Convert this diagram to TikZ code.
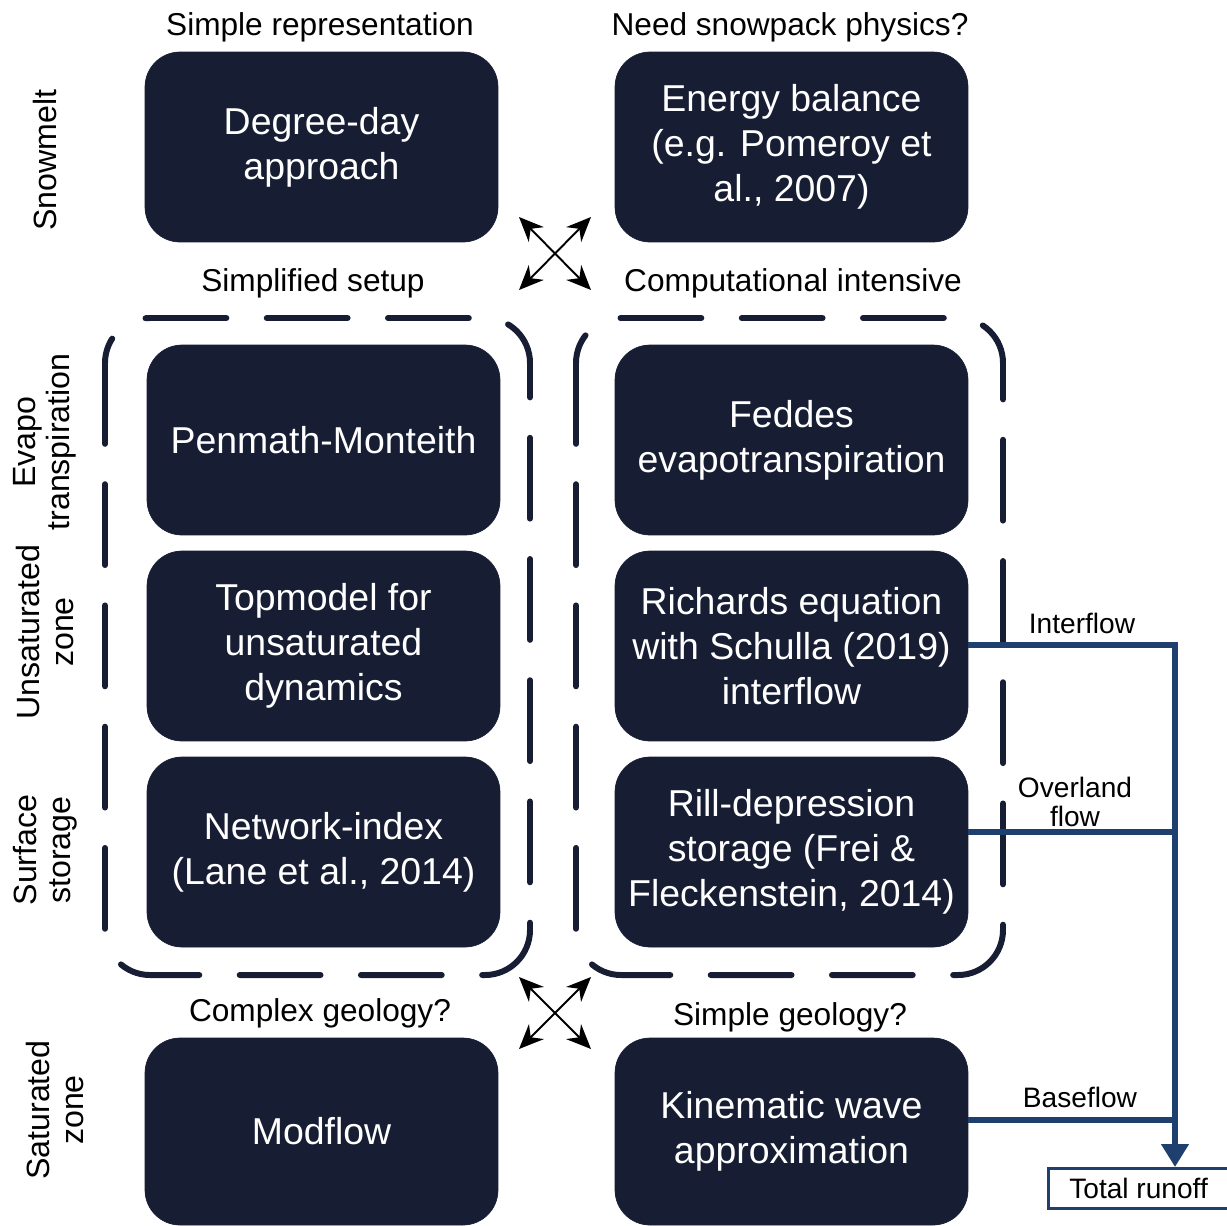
\documentclass[tikz,border=0pt]{standalone}
\usepackage{fontspec}
\setmainfont{Liberation Sans}
\usepackage{xcolor}
\usetikzlibrary{arrows.meta, positioning, calc}

\definecolor{navy}{HTML}{171D33}
\definecolor{flowblue}{HTML}{1F3F6E}

\begin{document}
\begin{tikzpicture}[
    x=0.02cm, y=-0.02cm,
    every node/.style={align=center},
    proc/.style={rectangle, rounded corners=0.7cm, fill=navy, draw=navy, text=white,
        minimum width=7.06cm, minimum height=3.8cm, inner sep=2pt,
        font=\fontsize{21.3}{25.5}\selectfont},
    head/.style={font=\fontsize{18}{20}\selectfont},
    side/.style={rotate=90, font=\fontsize{18.3}{19.5}\selectfont},
    flowlabel/.style={font=\fontsize{16}{16}\selectfont},
    group/.style={draw=navy, line width=3.4pt, line cap=round, rounded corners=0.9cm,
        dash pattern=on 46pt off 23pt},
    swap/.style={{Stealth[length=14pt,width=12pt]}-{Stealth[length=14pt,width=12pt]}, line width=1.1pt},
    flow/.style={draw=flowblue, line width=3.4pt},
]
\useasboundingbox (0,0) rectangle (1227,1225);

% Gruppenrahmen
\draw[group] (105,318) rectangle (530,975);
\draw[group] (576,318) rectangle (1003,975);

% Prozessboxen
\node[proc] (snowL) at (321.5,147) {Degree-day\\approach};
\node[proc] (snowR) at (791.5,147) {Energy balance\\(e.g. Pomeroy et\\al., 2007)};
\node[proc] (etL) at (323.5,440) {Penmath-Monteith};
\node[proc] (etR) at (791.5,440) {Feddes\\evapotranspiration};
\node[proc] (unsL) at (323.5,646) {Topmodel for\\unsaturated\\dynamics};
\node[proc] (unsR) at (791.5,646) {Richards equation\\with Schulla (2019)\\interflow};
\node[proc] (surfL) at (323.5,852) {Network-index\\(Lane et al., 2014)};
\node[proc] (surfR) at (791.5,852) {Rill-depression\\storage (Frei \&\\Fleckenstein, 2014)};
\node[proc, minimum height=3.74cm] (satL) at (321.5,1131.5) {Modflow};
\node[proc, minimum height=3.74cm] (satR) at (791.5,1131.5) {Kinematic wave\\approximation};

% Ueberschriften
\node[head] (hSnowL) at (320,27) {Simple representation};
\node[head] (hSnowR) at (790,27) {Need snowpack physics?};
\node[head] (hGrpL) at (313,283) {Simplified setup};
\node[head] (hGrpR) at (793,283) {Computational intensive};
\node[head] (hSatL) at (320,1013) {Complex geology?};
\node[head] (hSatR) at (790,1017) {Simple geology?};

% Zeilenbeschriftung
\node[side] (lSnow) at (45,160) {Snowmelt};
\node[side] (lET) at (45,442) {Evapo\\transpiration};
\node[side] (lUns) at (45,632) {Unsaturated\\zone};
\node[side] (lSurf) at (45,850) {Surface\\storage};
\node[side] (lSat) at (55,1110) {Saturated\\zone};

% Wahl zwischen den Spalten
\coordinate (a1) at (519,217);
\coordinate (a2) at (591,290);
\coordinate (a3) at (591,217);
\coordinate (a4) at (519,290);
\draw[swap] (a1) -- (a2);
\draw[swap] (a3) -- (a4);
\coordinate (b1) at (519,977);
\coordinate (b2) at (591,1049);
\coordinate (b3) at (591,977);
\coordinate (b4) at (519,1049);
\draw[swap] (b1) -- (b2);
\draw[swap] (b3) -- (b4);

% Abfluss
\node[draw=flowblue, line width=1.8pt, minimum width=3.7cm, minimum height=0.8cm,
    inner sep=0pt, flowlabel, anchor=north west] (total) at (1047,1167) {\hspace*{-0.1cm}Total runoff};
\coordinate (merge) at (1175,645);
\draw[flow, -{Triangle[length=13pt,width=15pt]}] (unsR.east |- merge) -- (merge)
    -- (merge |- total.north);
\draw[flow] (surfR.east |- 0,832) -- (merge |- 0,832);
\draw[flow] (satR.east |- 0,1120) -- (merge |- 0,1120);

\node[flowlabel] (lInter) at (1082,623) {Interflow};
\node[flowlabel, font=\fontsize{16}{16.5}\selectfont] (lOver) at (1075,802) {Overland\\flow};
\node[flowlabel] (lBase) at (1080,1097) {Baseflow};

\end{tikzpicture}
\end{document}
